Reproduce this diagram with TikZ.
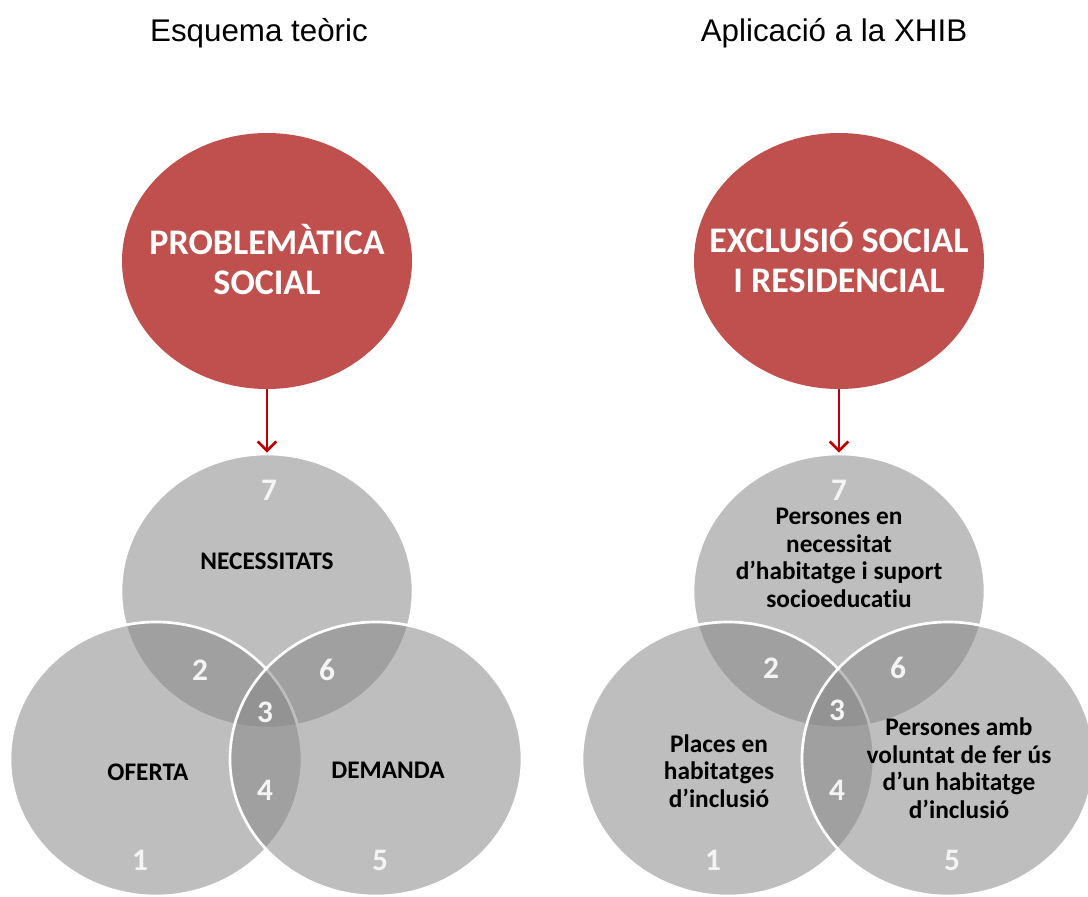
\documentclass[tikz,border=0pt]{standalone}
\usepackage{fontspec}
\setmainfont{Carlito}[Ligatures=NoCommon]
\newfontfamily\headfont{Liberation Sans}
\usetikzlibrary{shapes.geometric,arrows.meta}
\definecolor{probred}{RGB}{192,80,77}
\definecolor{arrred}{RGB}{192,0,0}
\definecolor{venngray}{RGB}{135,135,135}
\definecolor{numwhite}{RGB}{244,244,244}

\begin{document}
\begin{tikzpicture}[x=0.75pt,y=0.75pt,yscale=-1,xscale=1,
  probl/.style={ellipse,fill=probred,minimum width=217.5pt,minimum height=192pt,inner sep=0pt},
  probtxt/.style={text=white,align=center,inner sep=0.75pt,font=\bfseries\fontsize{27}{30}\selectfont},
  venn/.style={ellipse,draw=white,line width=2pt,fill=venngray,fill opacity=0.54,minimum width=219pt,minimum height=205.5pt,inner sep=0pt},
  num/.style={text=numwhite,inner sep=0.75pt,font=\bfseries\fontsize{23.5}{26}\selectfont},
  lbl/.style={text=black,align=center,inner sep=0.75pt,font=\bfseries\fontsize{19}{20.6}\selectfont},
  head/.style={anchor=base,inner sep=0.75pt,font=\headfont\fontsize{23.5}{28}\selectfont},
  arr/.style={draw=arrred,line width=2pt,-{Straight Barb[length=7pt,width=14pt]}}]
\useasboundingbox (0,0) rectangle (1088,896);
\clip (0,0) rectangle (1088,896);

% Text Node
\node[head] (headA) at (259,41) {Esquema teòric};
% Text Node
\node[head] (headB) at (834,41) {Aplicació a la XHIB};

%Shape: Ellipse
\node[probl] (probA) at (267,261) {};
%Shape: Ellipse
\node[probl] (probB) at (839,261) {};
% Text Node
\node[probtxt] (probAtxt) at (267,259) {PROBLEMÀTICA\\SOCIAL};
% Text Node
\node[probtxt] (probBtxt) at (839,258) {EXCLUSIÓ SOCIAL\\I RESIDENCIAL};

%Shape: Ellipse (left venn)
\node[venn] (necA) at (267,591) {};
\node[venn] (ofeA) at (156,759) {};
\node[venn] (demA) at (376,759) {};
%Shape: Ellipse (right venn)
\node[venn] (necB) at (839,591) {};
\node[venn] (ofeB) at (728,759) {};
\node[venn] (demB) at (948,759) {};

%Straight Lines
\draw[arr] (probA) -- (necA);
%Straight Lines
\draw[arr] (probB) -- (necB);

% Text Node
\node[num] (a7) at (269,490) {7};
\node[num] (a2) at (200,670) {2};
\node[num] (a6) at (327,670) {6};
\node[num] (a3) at (265,712) {3};
\node[num] (a4) at (265,790) {4};
\node[num] (a1) at (140,860) {1};
\node[num] (a5) at (380,860) {5};
% Text Node
\node[lbl] (necAtxt) at (267,561) {NECESSITATS};
\node[lbl] (ofeAtxt) at (148,772) {OFERTA};
\node[lbl] (demAtxt) at (388,770) {DEMANDA};

% Text Node
\node[num] (b7) at (839,490) {7};
\node[num] (b2) at (771,668) {2};
\node[num] (b6) at (898,668) {6};
\node[num] (b3) at (837,710) {3};
\node[num] (b4) at (837,790) {4};
\node[num] (b1) at (713,860) {1};
\node[num] (b5) at (952,860) {5};
% Text Node
\node[lbl] (necBtxt) at (839,558) {Persones en\\necessitat\\d’habitatge i suport\\socioeducatiu};
\node[lbl] (ofeBtxt) at (719,771) {Places en\\habitatges\\d’inclusió};
\node[lbl] (demBtxt) at (959,768) {Persones amb\\voluntat de fer ús\\d’un habitatge\\d’inclusió};

\end{tikzpicture}
\end{document}
